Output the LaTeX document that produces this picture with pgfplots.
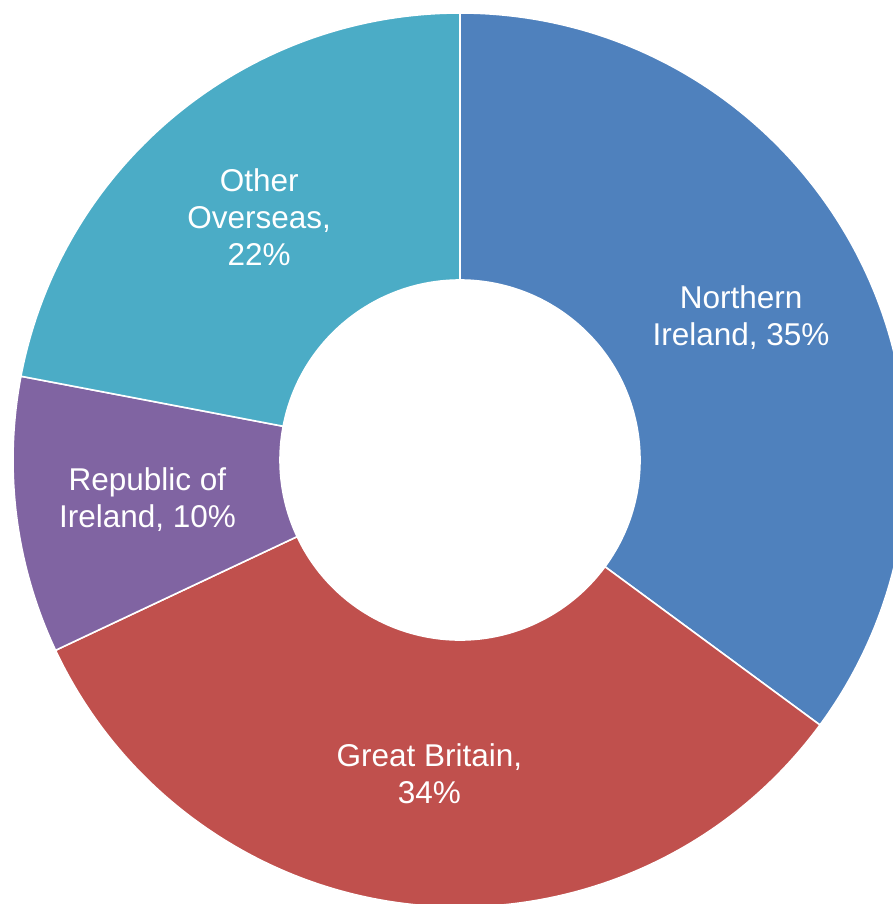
\documentclass[border=0pt]{standalone}
\usepackage{pgfplots}
\pgfplotsset{compat=1.18}
\usepackage{fontspec}
\setmainfont{Liberation Sans}
\definecolor{cNI}{HTML}{4F81BD}
\definecolor{cGB}{HTML}{C0504D}
\definecolor{cRI}{HTML}{8064A2}
\definecolor{cOO}{HTML}{4BACC6}
% share of each segment in percent (clockwise from top)
\def\vNI{35.1}
\def\vGB{32.9}
\def\vRI{10.0}
\def\vOO{22.0}
\def\Rout{447pt}
\def\Rin{180pt}
\def\Rlab{315pt}
\newcommand\sector[3]{%
  \fill[#3, draw=white, line width=1.6pt]
    ([shift={(#1:\Rout)}]axis cs:0,0) arc[start angle=#1, end angle=#2, radius=\Rout]
    -- ([shift={(#2:\Rin)}]axis cs:0,0) arc[start angle=#2, end angle=#1, radius=\Rin] -- cycle;}
\begin{document}
\begin{tikzpicture}
\pgfmathsetmacro{\aA}{90}
\pgfmathsetmacro{\aB}{\aA-3.6*\vNI}
\pgfmathsetmacro{\aC}{\aB-3.6*\vGB}
\pgfmathsetmacro{\aD}{\aC-3.6*\vRI}
\pgfmathsetmacro{\aE}{\aD-3.6*\vOO}
\pgfmathsetmacro{\mA}{(\aA+\aB)/2}
\pgfmathsetmacro{\mB}{(\aB+\aC)/2}
\pgfmathsetmacro{\mC}{(\aC+\aD)/2}
\pgfmathsetmacro{\mD}{(\aD+\aE)/2}
\begin{axis}[x=1pt, y=1pt, xmin=-460, xmax=433, ymin=-444, ymax=460,
  hide axis, clip=true]
\sector{\aA}{\aB}{cNI}
\sector{\aB}{\aC}{cGB}
\sector{\aC}{\aD}{cRI}
\sector{\aD}{\aE}{cOO}
\tikzset{lab/.style={text=white, align=center, font=\fontsize{31.5}{37}\selectfont}}
\node[lab] at ([shift={(\mA:\Rlab)}]axis cs:0,0) {Northern\\Ireland, 35\%};
\node[lab] at ([shift={(\mB:\Rlab)}]axis cs:0,0) {Great Britain,\\34\%};
\node[lab] at ([shift={(\mC:\Rlab)}]axis cs:0,0) {Republic of\\Ireland, 10\%};
\node[lab] at ([shift={(\mD:\Rlab)}]axis cs:0,0) {Other\\Overseas,\\22\%};
\end{axis}
\pgfresetboundingbox
\useasboundingbox (current axis.south west) rectangle (current axis.north east);
\end{tikzpicture}
\end{document}
